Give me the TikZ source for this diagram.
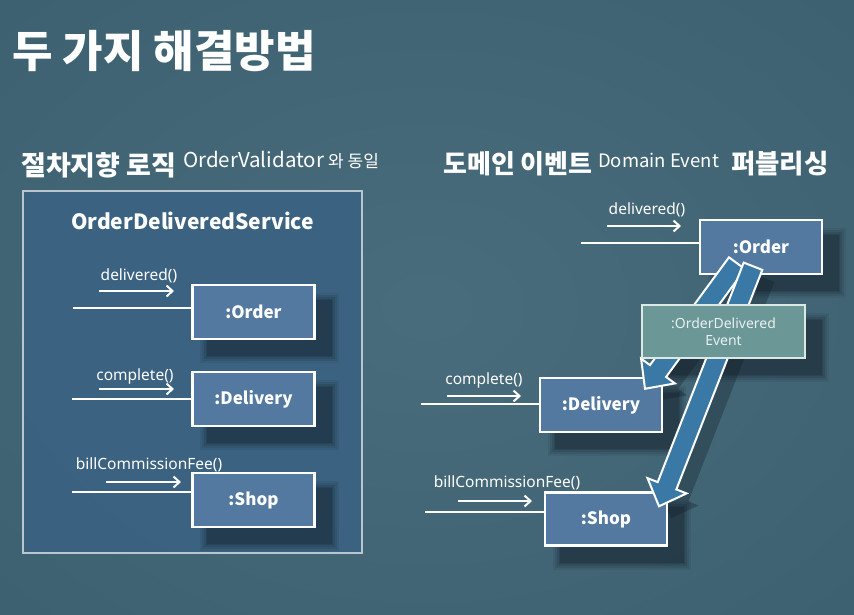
\documentclass[tikz,border=0pt]{standalone}
\usepackage{fontspec}
\setmainfont{Noto Sans}
\newfontfamily\kr{Noto Sans CJK KR}
\usetikzlibrary{calc,arrows.meta}
\pgfdeclarelayer{bglayer}
\pgfdeclarelayer{shadowlayer}
\pgfsetlayers{bglayer,shadowlayer,main}
\definecolor{boxfill}{HTML}{5379A1}
\definecolor{evfill}{HTML}{6B9896}
\definecolor{evtext}{HTML}{E8F0F0}
\definecolor{evline}{HTML}{DCE8E4}
\definecolor{arrfill}{HTML}{3A78A6}
\definecolor{panelfill}{HTML}{3A6283}
\definecolor{panelline}{HTML}{BAC6CE}
\definecolor{shadowc}{HTML}{0E1822}
\pgfdeclareradialshading{bgshade}{\pgfpoint{0bp}{0bp}}{rgb(0bp)=(0.285,0.425,0.485); rgb(35bp)=(0.24,0.38,0.44); rgb(72bp)=(0.14,0.24,0.30)}
\tikzset{
  objbox/.style={draw=white, line width=2.5pt, fill=boxfill, minimum width=122pt, minimum height=54pt, inner sep=0pt, text=white, font=\kr\bfseries\fontsize{17}{17}\selectfont},
  evbox/.style={draw=evline, line width=2pt, fill=evfill, minimum width=163pt, minimum height=53pt, inner sep=0pt, align=center, text=evtext, font=\fontsize{14}{17}\selectfont},
  inline/.style={white, line width=2pt},
  msgarrow/.style={white, line width=2pt, -{Straight Barb[length=6pt,width=11pt]}},
  msglabel/.style={anchor=base, text=white, font=\fontsize{15.5}{15.5}\selectfont, inner sep=0pt},
  blockarrowstyle/.style={draw=white, line width=2pt, fill=arrfill, line join=miter},
  krtitle/.style={anchor=base west, inner sep=0pt, text=white, font=\kr\bfseries\fontsize{#1}{#1}\selectfont},
  latsup/.style={anchor=base west, inner sep=0pt, text=white, font=\kr\fontsize{#1}{#1}\selectfont},
}
\newcommand\objshadow[1]{%
  \begin{pgfonlayer}{shadowlayer}
  \foreach \e/\o in {7/0.08,5/0.1,3/0.13,1/0.16,0/0.18}{%
    \fill[shadowc,opacity=\o] ($(#1.north west)+(16-\e,16-\e)$) rectangle ($(#1.south east)+(16+\e,16+\e)$);}
  \end{pgfonlayer}}
\newcommand\blockarrow[4]{%
  \coordinate (#3b) at ($(#2)!22pt!(#1)$);
  \path[#4] ($(#1)!10pt!90:(#2)$) -- ($(#3b)!10pt!90:(#2)$) -- ($(#3b)!21pt!90:(#2)$) -- (#2) -- ($(#3b)!21pt!-90:(#2)$) -- ($(#3b)!10pt!-90:(#2)$) -- ($(#1)!10pt!-90:(#2)$) -- cycle;}
\begin{document}
\begin{tikzpicture}[x=1pt,y=-1pt]
\useasboundingbox (0,0) rectangle (854,614);
\begin{pgfonlayer}{bglayer}
  \shade[shading=bgshade] (0,0) rectangle (854,614);
  \node[draw=panelline, line width=1.8pt, fill=panelfill, fill opacity=0.85, minimum width=339pt, minimum height=362pt, inner sep=0pt] (panel) at (192.5,372) {};
\end{pgfonlayer}

% titles
\node[krtitle=44] (title) at (12,67) {두 가지 해결방법};
\node[krtitle=27] (subL1) at (21,175) {절차지향 로직};
\node[latsup=20.5] (subL2) at (183,167) {OrderValidator};
\node[latsup=17] (subL3) at (328,167) {와 동일};
\node[krtitle=26] (subR1) at (443,173) {도메인 이벤트};
\node[latsup=18.5] (subR2) at (598,167) {Domain Event};
\node[krtitle=26.5] (subR3) at (731,173) {퍼블리싱};

% left panel
\node[anchor=base, inner sep=0pt, text=white, font=\kr\bfseries\fontsize{21}{21}\selectfont] (ptitle) at (192.5,229) {OrderDeliveredService};

\node[objbox] (lo) at (253.5,312) {:Order};
\node[objbox] (ld) at (253.5,399) {:Delivery};
\node[objbox] (ls) at (253.5,500) {:Shop};
\objshadow{lo}\objshadow{ld}\objshadow{ls}

\coordinate (loin) at (73,308);
\draw[inline] (loin) -- (loin -| lo.west);
\coordinate (loar) at (99,291);
\draw[msgarrow] (loar) -- ++(75,0);
\node[msglabel] (lolab) at (139,280) {delivered()};

\coordinate (ldin) at (72,399);
\draw[inline] (ldin) -- (ldin -| ld.west);
\coordinate (ldar) at (99,389);
\draw[msgarrow] (ldar) -- ++(75,0);
\node[msglabel] (ldlab) at (135,380) {complete()};

\coordinate (lsin) at (72,492);
\draw[inline] (lsin) -- (lsin -| ls.west);
\coordinate (lsar) at (106,482);
\draw[msgarrow] (lsar) -- ++(75,0);
\node[msglabel] (lslab) at (149,469) {billCommissionFee()};

% right side
\node[objbox] (ro) at (761,247) {:Order};
\node[objbox] (rd) at (601,405) {:Delivery};
\node[objbox, minimum height=53pt] (rs) at (606,519) {:Shop};
\objshadow{ro}\objshadow{rd}\objshadow{rs}

\coordinate (roin) at (581,243);
\draw[inline] (roin) -- (roin -| ro.west);
\coordinate (roar) at (607,226);
\draw[msgarrow] (roar) -- ++(74,0);
\node[msglabel] (rolab) at (647,214) {delivered()};

\coordinate (rdin) at (421,404);
\draw[inline] (rdin) -- (rdin -| rd.west);
\coordinate (rdar) at (447,396);
\draw[msgarrow] (rdar) -- ++(74,0);
\node[msglabel] (rdlab) at (484,384) {complete()};

\coordinate (rsin) at (425,512);
\draw[inline] (rsin) -- (rsin -| rs.west);
\coordinate (rsar) at (458,501);
\draw[msgarrow] (rsar) -- ++(74,0);
\node[msglabel] (rslab) at (507,487) {billCommissionFee()};

% event block arrows
\coordinate (a1s) at ($(ro.south)+(-24,-12)$);
\coordinate (a1t) at ($(rd.north)+(44,12)$);
\coordinate (a2s) at ($(ro.south)+(-8,-9)$);
\coordinate (a2t) at ($(rs.north)+(53,15)$);
\begin{pgfonlayer}{shadowlayer}
\begin{scope}[transform canvas={shift={(12pt,-12pt)}}]
  \blockarrow{a1s}{a1t}{a1sh}{fill=shadowc,opacity=0.3}
  \blockarrow{a2s}{a2t}{a2sh}{fill=shadowc,opacity=0.3}
\end{scope}
\end{pgfonlayer}
\blockarrow{a1s}{a1t}{a1}{blockarrowstyle}
\blockarrow{a2s}{a2t}{a2}{blockarrowstyle}

\node[evbox] (ev) at (723.5,331.5) {:OrderDelivered\\Event};
\objshadow{ev}
\end{tikzpicture}
\end{document}
